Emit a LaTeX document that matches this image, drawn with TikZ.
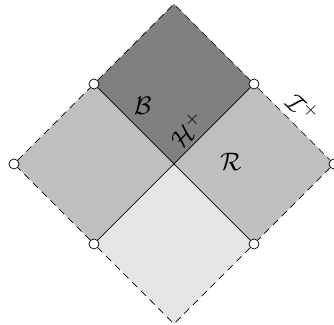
\documentclass[tikz,border=0pt]{standalone}
\usepackage{amsmath,amssymb}
\usepackage{xcolor}
\usepackage{tikz}

\begin{document}
\begin{tikzpicture}[x=1.6cm, y=1.6cm, every node/.style={inner sep=0pt},
  dot/.style={circle, draw, fill=white, minimum size=2mm, line width=0.4pt},
  lbl/.style={font=\fontsize{15.5}{18}\selectfont},
  bdry/.style={dash pattern=on 4pt off 3pt, line width=0.4pt}]
\useasboundingbox (-2.175,-2.0125) rectangle (2.0,2.05);
\coordinate (c) at (0,0);
\coordinate (t) at (0,2);
\coordinate (b) at (0,-2);

% regions
\fill[black!50] (c)--(1,1)--(t)--(-1,1)--cycle;
\fill[black!25] (c)--(-1,1)--(-2,0)--(-1,-1)--cycle;
\fill[black!25] (c)--(1,1)--(2,0)--(1,-1)--cycle;
\fill[black!10] (c)--(1,-1)--(b)--(-1,-1)--cycle;

\node[dot] (ul) at (-1,1) {};
\node[dot] (ur) at (1,1) {};
\node[dot] (l) at (-2,0) {};
\node[dot] (r) at (2,0) {};
\node[dot] (ll) at (-1,-1) {};
\node[dot] (lr) at (1,-1) {};

\draw (ul)--(c)--(lr);
\draw (ur)--(c)--(ll);
\draw[bdry] (ul)--(t)--(ur);
\draw[bdry] (ur)--(r);
\draw[bdry] (r)--(lr);
\draw[bdry] (lr)--(b)--(ll);
\draw[bdry] (ll)--(l);
\draw[bdry] (l)--(ul);

\node[lbl] (B) at (-0.39,0.73) {$\mathcal{B}$};
\node[lbl, rotate=45] (H) at (0.17,0.43) {$\mathcal{H}^{+}$};
\node[lbl] (R) at (0.71,0.03) {$\mathcal{R}$};
\node[lbl, rotate=-45] (I) at (1.61,0.70) {$\mathcal{I}^{+}$};
\end{tikzpicture}
\end{document}
